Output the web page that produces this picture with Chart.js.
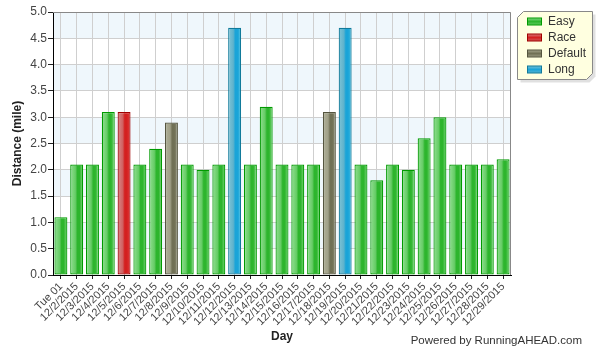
<!DOCTYPE html>
<html>
<head>
<meta charset="utf-8">
<script src="https://cdn.jsdelivr.net/npm/chart.js@4"></script>
<style>
  html, body { margin: 0; padding: 0; background: #fff; }
  #wrap { width: 600px; height: 350px; }
</style>
</head>
<body>
<div id="wrap"><canvas id="chart" width="600" height="350"></canvas></div>
<script>
const days = ['Tue 01', '12/2/2015', '12/3/2015', '12/4/2015', '12/5/2015', '12/6/2015', '12/7/2015',
  '12/8/2015', '12/9/2015', '12/10/2015', '12/11/2015', '12/12/2015', '12/13/2015', '12/14/2015',
  '12/15/2015', '12/16/2015', '12/17/2015', '12/18/2015', '12/19/2015', '12/20/2015', '12/21/2015',
  '12/22/2015', '12/23/2015', '12/24/2015', '12/25/2015', '12/26/2015', '12/27/2015', '12/28/2015',
  '12/29/2015']
const distances = [1.1, 2.1, 2.1, 3.1, 3.1, 2.1, 2.4, 2.9, 2.1, 2.0, 2.1, 4.7, 2.1, 3.2,
  2.1, 2.1, 2.1, 3.1, 4.7, 2.1, 1.8, 2.1, 2.0, 2.6, 3.0, 2.1, 2.1, 2.1, 2.2]
const runTypes = ['Easy', 'Easy', 'Easy', 'Easy', 'Race', 'Easy', 'Easy', 'Default', 'Easy', 'Easy',
  'Easy', 'Long', 'Easy', 'Easy', 'Easy', 'Easy', 'Easy', 'Default', 'Long', 'Easy', 'Easy',
  'Easy', 'Easy', 'Easy', 'Easy', 'Easy', 'Easy', 'Easy', 'Easy']
const typeNames = ['Easy', 'Race', 'Default', 'Long']
const yTicks = [0, 0.5, 1, 1.5, 2, 2.5, 3, 3.5, 4, 4.5, 5]

// colour stops for each run type: [left, mid, stripe, right], border
const palette = {
  Easy: { stops: ['#92e092', '#66cc66', '#2db52d', '#7fd87f'], border: '#009a00' },
  Race: { stops: ['#d88a8a', '#d06060', '#d42020', '#e04040'], border: '#a00000' },
  Default: { stops: ['#b0b098', '#a0a088', '#707055', '#909078'], border: '#55553f' },
  Long: { stops: ['#80c4d6', '#5eb2cc', '#1aa4d8', '#40bce0'], border: '#107a9a' }
}

const font = "'Liberation Sans', Arial, sans-serif"
const barPct = 0.82

function barFill(type) {
  return function (c) {
    const chart = c.chart
    const p = palette[type]
    if (!chart.chartArea || !chart.scales.x) return p.stops[1]
    const xs = chart.scales.x
    const center = xs.getPixelForValue(c.dataIndex)
    const w = xs.width / days.length * barPct
    const g = chart.ctx.createLinearGradient(center - w / 2, 0, center + w / 2, 0)
    g.addColorStop(0, p.stops[0])
    g.addColorStop(0.4, p.stops[1])
    g.addColorStop(0.55, p.stops[2])
    g.addColorStop(0.72, p.stops[2])
    g.addColorStop(1, p.stops[3])
    return g
  }
}

const datasets = typeNames.map(t => ({
  label: t,
  data: distances.map((v, i) => runTypes[i] === t ? v : null),
  backgroundColor: barFill(t),
  borderColor: palette[t].border,
  borderWidth: 1.2,
  borderSkipped: false,
  categoryPercentage: 1,
  barPercentage: barPct
}))

// alternating bands + top/right frame, legend, credit
const bandsPlugin = {
  id: 'bands',
  beforeDraw(chart) {
    const { ctx, chartArea: a, scales: { y } } = chart
    ctx.save()
    ctx.fillStyle = '#fff'
    ctx.fillRect(a.left, a.top, a.width, a.height)
    ctx.fillStyle = '#eff7fc'
    for (let i = yTicks.length - 1; i > 0; i -= 2) {
      const top = y.getPixelForValue(yTicks[i])
      const bot = y.getPixelForValue(yTicks[i - 1])
      ctx.fillRect(a.left, top, a.width, bot - top)
    }
    ctx.restore()
  },
  afterDraw(chart) {
    const { ctx, chartArea: a } = chart
    ctx.save()
    ctx.strokeStyle = '#888'
    ctx.lineWidth = 1
    ctx.beginPath()
    ctx.moveTo(a.left, a.top + 0.5)
    ctx.lineTo(a.right - 0.5, a.top + 0.5)
    ctx.lineTo(a.right - 0.5, a.bottom)
    ctx.stroke()

    // legend box
    const lx = 517.5, ly = 11.5, lw = 75, lh = 68, cut = 6
    const shape = (dx, dy) => {
      ctx.beginPath()
      ctx.moveTo(lx + cut + dx, ly + dy)
      ctx.lineTo(lx + lw + dx, ly + dy)
      ctx.lineTo(lx + lw + dx, ly + lh - cut + dy)
      ctx.lineTo(lx + lw - cut + dx, ly + lh + dy)
      ctx.lineTo(lx + dx, ly + lh + dy)
      ctx.lineTo(lx + dx, ly + cut + dy)
      ctx.closePath()
    }
    ctx.fillStyle = 'rgba(0,0,0,0.12)'
    shape(3, 3)
    ctx.fill()
    ctx.fillStyle = '#ffffe0'
    shape(0, 0)
    ctx.fill()
    ctx.strokeStyle = '#888'
    ctx.stroke()
    ctx.font = '12px ' + font
    ctx.textBaseline = 'middle'
    typeNames.forEach((t, i) => {
      const cy = ly + 10 + i * 16
      const p = palette[t]
      const g = ctx.createLinearGradient(0, cy - 4, 0, cy + 4)
      g.addColorStop(0, p.stops[0])
      g.addColorStop(0.5, p.stops[2])
      g.addColorStop(1, p.stops[1])
      ctx.fillStyle = g
      ctx.fillRect(527.5, cy - 3.5, 14, 7)
      ctx.strokeStyle = p.border
      ctx.strokeRect(527.5, cy - 3.5, 14, 7)
      ctx.fillStyle = '#333'
      ctx.fillText(t, 548, cy + 0.5)
    })

    ctx.font = '11.5px ' + font
    ctx.fillStyle = '#333'
    ctx.textAlign = 'right'
    ctx.fillText('Powered by RunningAHEAD.com', 582, 341)
    ctx.restore()
  }
}

const ctx = document.getElementById('chart').getContext('2d')
new Chart(ctx, {
  type: 'bar',
  data: { labels: days, datasets: datasets },
  options: {
    responsive: false,
    animation: false,
    layout: { padding: { left: 8, top: 12, right: 89, bottom: 0 } },
    plugins: {
      legend: { display: false },
      tooltip: { enabled: false }
    },
    scales: {
      x: {
        stacked: true,
        grid: { offset: false, color: '#cfcfcf', tickColor: '#222', tickLength: 4 },
        border: { color: '#000', width: 1 },
        ticks: {
          minRotation: 45, maxRotation: 45, autoSkip: false,
          color: '#444', padding: 1,
          font: { family: font, size: 11 }
        },
        title: {
          display: true, text: 'Day', color: '#222',
          font: { family: font, size: 12, weight: 'bold' },
          padding: { top: 0, bottom: 6 }
        },
        afterFit(scale) { scale.height = 75 }
      },
      y: {
        stacked: true,
        min: 0, max: 5,
        grid: { color: '#cfcfcf', tickColor: '#222', tickLength: 5 },
        border: { color: '#000', width: 1 },
        ticks: {
          stepSize: 0.5, color: '#444', padding: 1,
          font: { family: font, size: 12 },
          callback: v => v.toFixed(1)
        },
        title: {
          display: true, text: 'Distance (mile)', color: '#222',
          font: { family: font, size: 12, weight: 'bold' },
          padding: { top: 2, bottom: 0 }
        },
        afterFit(scale) { scale.width = 45 }
      }
    }
  },
  plugins: [bandsPlugin]
})
</script>
</body>
</html>
